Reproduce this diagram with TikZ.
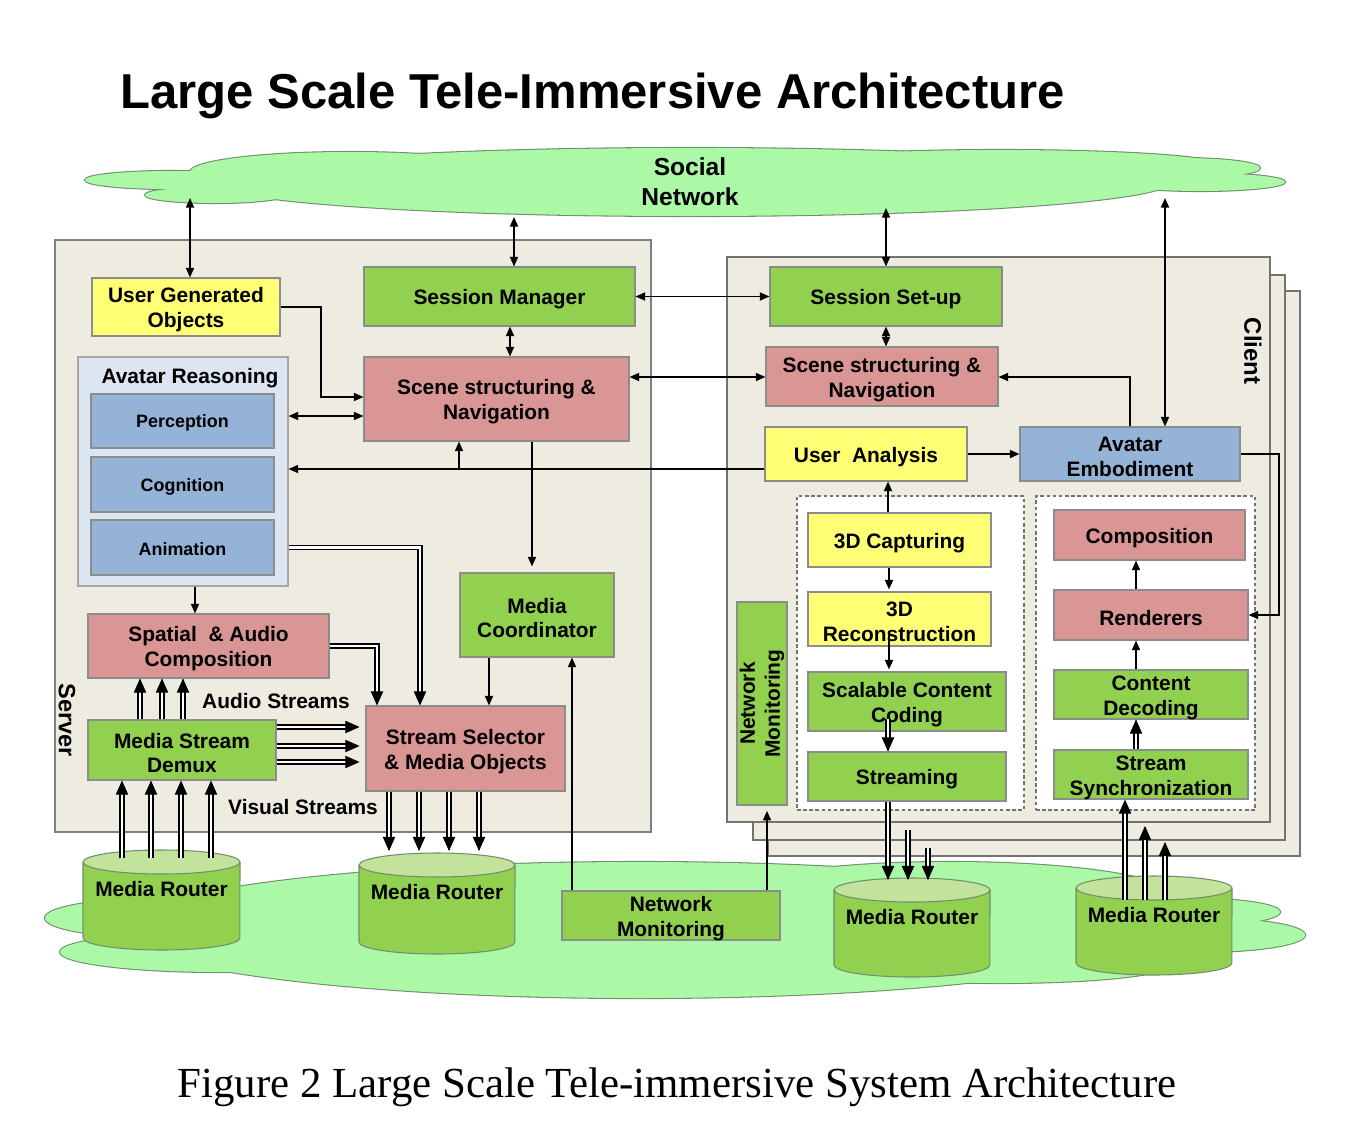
\documentclass[tikz,border=0pt]{standalone}
\usepackage{fontspec}
\setmainfont{Liberation Sans}
\newfontfamily\capserif{Liberation Serif}
\usetikzlibrary{arrows.meta,calc}
\definecolor{cgreen}{HTML}{92D050}
\definecolor{cpink}{HTML}{D99694}
\definecolor{cyellow}{HTML}{FFFF75}
\definecolor{cblue}{HTML}{95B3D7}
\definecolor{clblue}{HTML}{DCE6F2}
\definecolor{cbeige}{HTML}{EEECE1}
\definecolor{ccloud}{HTML}{ABF8A6}
\definecolor{ctop}{HTML}{C3E29B}
\definecolor{cedge}{HTML}{6F8F6C}
\newcommand\lbl{\fontsize{11.9}{14.2}\selectfont\bfseries}
\newcommand\slbl{\fontsize{10.2}{12}\selectfont\bfseries}
\newcommand\mkbox[7]{\node[box,#6,minimum width={(#4-#2)*0.02cm},minimum height={(#5-#3)*0.02cm}] (#1) at ({(#2+#4)/2},{(#3+#5)/2}) {};
  \node[btext] (#1t) at ($(#1)+(0,3)$) {#7};}
\newcommand\mkboxs[7]{\node[box,#6,minimum width={(#4-#2)*0.02cm},minimum height={(#5-#3)*0.02cm}] (#1) at ({(#2+#4)/2},{(#3+#5)/2}) {};
  \node[btext,font=\slbl] (#1t) at ($(#1)+(0,2)$) {#7};}
\newcommand\dblarr[2]{\draw[dbl,shorten >=6pt] #1 -- #2; \draw[dtip] ($#2!0.02!#1$) -- #2;}
\newcommand\router[6]{%
  \filldraw[fill=cgreen,draw=cedge,line width=0.6pt] (#2,#4) -- (#2,#5) arc[start angle=180,end angle=360,x radius={(#3-#2)*0.01cm},y radius={#6*0.02cm}] -- (#3,#4);
  \filldraw[fill=ctop,draw=cedge,line width=0.6pt] ({(#2+#3)/2},#4) ellipse[x radius={(#3-#2)*0.01cm},y radius={#6*0.02cm}];
  \node[font=\lbl] (#1) at ({(#2+#3)/2},{#4+27}) {Media Router};}
\tikzset{
  box/.style={draw=black!45,line width=0.6pt,inner sep=0pt},
  btext/.style={font=\lbl,align=center,inner sep=0pt},
  arr/.style={line width=0.9pt,-{Triangle[length=5.5pt,width=4.6pt]}},
  barr/.style={line width=0.9pt,{Triangle[length=5.5pt,width=4.6pt]}-{Triangle[length=5.5pt,width=4.6pt]}},
  dbl/.style={line width=0.75pt,double=white,double distance=1.6pt},
  dtip/.style={line width=0.5pt,-{Triangle[length=8pt,width=7pt]}},
  dashbox/.style={draw=black!55,fill=white,line width=0.6pt,dash pattern=on 2pt off 1.5pt},
  cloudline/.style={draw=cedge,line width=1.2pt},
}
\begin{document}
\begin{tikzpicture}[x=0.02cm,y=-0.02cm]
\useasboundingbox[fill=white] (0,0) rectangle (1372,1136);
% title
\node[font=\fontsize{27.9}{33}\selectfont\bfseries,anchor=base west,inner sep=0] (title) at (120,108) {Large Scale Tele-Immersive Architecture};
% top cloud
\foreach \cx/\cy/\rx/\ry in {350/172/160/20, 690/182/480/34, 170/180/85/9, 215/195/70/8, 1180/168/80/10, 1200/182/85/9, 1000/165/220/15}
  \draw[cloudline] (\cx,\cy) ellipse[x radius={\rx*0.02cm},y radius={\ry*0.02cm}];
\foreach \cx/\cy/\rx/\ry in {350/172/160/20, 690/182/480/34, 170/180/85/9, 215/195/70/8, 1180/168/80/10, 1200/182/85/9, 1000/165/220/15}
  \fill[ccloud] (\cx,\cy) ellipse[x radius={\rx*0.02cm},y radius={\ry*0.02cm}];
\node[font=\fontsize{14}{17}\selectfont\bfseries,align=center] (sn) at (690,182) {Social\\Network};
% bottom cloud
\foreach \cx/\cy/\rx/\ry in {640/930/520/68, 165/918/120/20, 220/952/160/20, 950/895/220/33, 1185/912/95/14, 1200/935/105/17, 1000/965/170/18}
  \draw[cloudline] (\cx,\cy) ellipse[x radius={\rx*0.02cm},y radius={\ry*0.02cm}];
\foreach \cx/\cy/\rx/\ry in {640/930/520/68, 165/918/120/20, 220/952/160/20, 950/895/220/33, 1185/912/95/14, 1200/935/105/17, 1000/965/170/18}
  \fill[ccloud] (\cx,\cy) ellipse[x radius={\rx*0.02cm},y radius={\ry*0.02cm}];
% server
\mkbox{server}{55}{240}{651}{832}{fill=cbeige,draw=black!50}{}
\node[rotate=-90,font=\fontsize{13.4}{16}\selectfont\bfseries] (srvlbl) at (67,720) {Server};
\mkbox{ugo}{92}{278}{280}{336}{fill=cyellow}{User Generated\\Objects}
\mkbox{sm}{364}{267}{635}{326}{fill=cgreen}{Session Manager}
\mkbox{avr}{78}{357}{288}{586}{fill=clblue,draw=black!35}{}
\node[font=\lbl] (avrlbl) at (190,378) {Avatar Reasoning};
\mkboxs{percep}{91}{394}{274}{448}{fill=cblue}{Perception}
\mkboxs{cogn}{91}{457}{274}{512}{fill=cblue}{Cognition}
\mkboxs{anim}{91}{520}{274}{575}{fill=cblue}{Animation}
\mkbox{scs}{364}{357}{629}{441}{fill=cpink}{Scene structuring \&\\Navigation}
\mkbox{sac}{88}{614}{329}{678}{fill=cpink}{Spatial~ \& Audio\\Composition}
\mkbox{demux}{88}{720}{276}{780}{fill=cgreen}{Media Stream\\Demux}
\mkbox{mc}{460}{573}{614}{657}{fill=cgreen}{Media\\Coordinator}
\mkbox{sel}{366}{706}{565}{791}{fill=cpink}{Stream Selector\\\& Media Objects}
\node[font=\lbl] (aud) at (276,701) {Audio Streams};
\node[font=\lbl] (vis) at (303,807) {Visual Streams};
% client
\mkbox{cl3}{768}{291}{1300}{856}{fill=cbeige,draw=black!55}{}
\mkbox{cl2}{753}{275}{1285}{840}{fill=cbeige,draw=black!55}{}
\mkbox{cl1}{727}{257}{1270}{822}{fill=cbeige,draw=black!55}{}
\node[rotate=-90,font=\fontsize{13.6}{16}\selectfont\bfseries] (clilbl) at (1253,351) {Client};
\mkbox{sss}{770}{267}{1002}{326}{fill=cgreen}{Session Set-up}
\mkbox{scnc}{766}{347}{998}{406}{fill=cpink}{Scene structuring \&\\Navigation}
\mkbox{ua}{765}{427}{967}{481}{fill=cyellow}{User~ Analysis}
\mkbox{ae}{1020}{427}{1240}{481}{fill=cblue}{Avatar\\Embodiment}
\mkbox{dl}{797}{496}{1024}{810}{dashbox}{}
\mkbox{dr}{1036}{496}{1255}{810}{dashbox}{}
\mkbox{cap}{808}{513}{991}{567}{fill=cyellow}{3D Capturing}
\mkbox{rec}{808}{592}{991}{646}{fill=cyellow}{3D\\Reconstruction}
\mkbox{scod}{808}{672}{1006}{731}{fill=cgreen}{Scalable Content\\Coding}
\mkbox{strm}{808}{752}{1006}{801}{fill=cgreen}{Streaming}
\mkbox{nmv}{737}{602}{787}{805}{fill=cgreen}{}
\node[rotate=90,align=center,font=\lbl] (nmvlbl) at (nmv) {Network\\Monitoring};
\mkbox{comp}{1054}{510}{1245}{560}{fill=cpink}{Composition}
\mkbox{rend}{1054}{590}{1248}{640}{fill=cpink}{Renderers}
\mkbox{cdec}{1054}{670}{1248}{719}{fill=cgreen}{Content\\Decoding}
\mkbox{ssync}{1054}{750}{1248}{799}{fill=cgreen}{Stream\\Synchronization}
% bottom
\mkbox{nmb}{562}{891}{780}{940}{fill=cgreen}{Network\\Monitoring}
\router{mr1}{83}{240}{862}{938}{12}
\router{mr2}{359}{515}{865}{942}{12}
\router{mr3}{834}{990}{890}{965}{12}
\router{mr4}{1076}{1232}{888}{963}{12}
\coordinate (mr1t) at (161,858);
\coordinate (mr2t) at (437,851);
\coordinate (mr3t) at (912,880);
\coordinate (mr4t) at (1154,900);
% caption
\node[font=\capserif\fontsize{24.4}{29}\selectfont,anchor=base] (cap2) at (677,1097) {Figure 2 Large Scale Tele-immersive System Architecture};
% connectors
\coordinate (sn1) at (190,198);
\coordinate (sn2) at (514,217);
\coordinate (sn3) at (886,208);
\coordinate (sn4) at (1165,198);
\draw[barr] (sn1) -- (ugo.north -| sn1);
\draw[barr] (sn2) -- (sm.north -| sn2);
\draw[barr] (sn3) -- (sss.north -| sn3);
\draw[barr] (sn4) -- (ae.north -| sn4);
\draw[barr] (sm.east) -- (sss.west);
\draw[barr] (sm.south -| 510,0) -- (scs.north -| 510,0);
\draw[barr] (sss.south -| 886,0) -- (scnc.north -| 886,0);
\draw[barr] (scs.east |- 0,377) -- (scnc.west |- 0,377);
\coordinate (ugok) at (321,397);
\draw[arr] (ugo.east |- 0,307) -| (ugok) -- (scs.west |- ugok);
\draw[barr] (avr.east |- 0,416) -- (scs.west |- 0,416);
\draw[arr] (ua.west |- 0,469) -- (avr.east |- 0,469);
\coordinate (uak) at (459,469);
\draw[arr] (uak) -- (scs.south -| uak);
\draw[arr] (scs.south -| 532,0) -- ($(mc.north -| 532,0)+(0,-6)$);
\draw[arr] (avr.south -| 195,0) -- (sac.north -| 195,0);
\draw[arr] (mc.south -| 489,0) -- (sel.north -| 489,0);
\draw[arr] (nmb.north -| 572,0) -- (mc.south -| 572,0);
\draw[arr,shorten >=3pt] (nmb.north -| 767,0) -- (nmv.south -| 767,0);
\draw[arr] (ae.north -| 1130,0) |- (scnc.east |- 0,377);
\draw[arr] (ua.east) -- (ae.west);
\coordinate (aek) at (1279,615);
\draw[arr] (ae.east) -| (aek) -- (rend.east |- aek);
\draw[arr] (cap.north -| 888,0) -- (ua.south -| 888,0);
\draw[arr] (cap.south -| 889,0) -- ($(rec.north -| 889,0)+(0,-2)$);
\draw[arr] ($(rec.south -| 889,0)+(0,-16)$) -- ($(scod.north -| 889,0)+(0,-2)$);
\dblarr{($(scod.south -| 888,0)+(0,-13)$)}{(strm.north -| 888,0)}
\draw[arr] (cdec.north -| 1136,0) -- (rend.south -| 1136,0);
\draw[arr] (rend.north -| 1136,0) -- (comp.south -| 1136,0);
\dblarr{(ssync.north -| 1136,0)}{(cdec.south -| 1136,0)}
\coordinate (s2) at (908,830);
\coordinate (s3) at (928,848);
\coordinate (r2) at (1145,826);
\coordinate (r3) at (1165,842);
\dblarr{(strm.south -| 888,0)}{(mr3t -| 888,0)}
\dblarr{(s2)}{(mr3t -| s2)}
\dblarr{(s3)}{(mr3t -| s3)}
\dblarr{(mr4t -| 1125,0)}{(ssync.south -| 1125,0)}
\dblarr{(mr4t -| r2)}{(r2)}
\dblarr{(mr4t -| r3)}{(r3)}
\foreach \xx in {140,162,183} {\dblarr{(demux.north -| \xx,0)}{(sac.south -| \xx,0)}}
\foreach \yy in {727,746,762} {\dblarr{(demux.east |- 0,\yy)}{($(sel.west |- 0,\yy)+(-6,0)$)}}
\foreach \xx in {122,151,181,211} {\dblarr{(mr1t -| \xx,0)}{(demux.south -| \xx,0)}}
\foreach \xx in {389,419,449,479} {\dblarr{(sel.south -| \xx,0)}{(mr2t -| \xx,0)}}
\draw[dbl,shorten >=6pt] (avr.east |- anim.east) -| (sel.north -| 420,0);
\draw[dtip] ($(sel.north -| 420,0)+(0,-2)$) -- (sel.north -| 420,0);
\draw[dbl,shorten >=6pt] (sac.east) -| (sel.north -| 377,0);
\draw[dtip] ($(sel.north -| 377,0)+(0,-2)$) -- (sel.north -| 377,0);
\end{tikzpicture}
\end{document}
